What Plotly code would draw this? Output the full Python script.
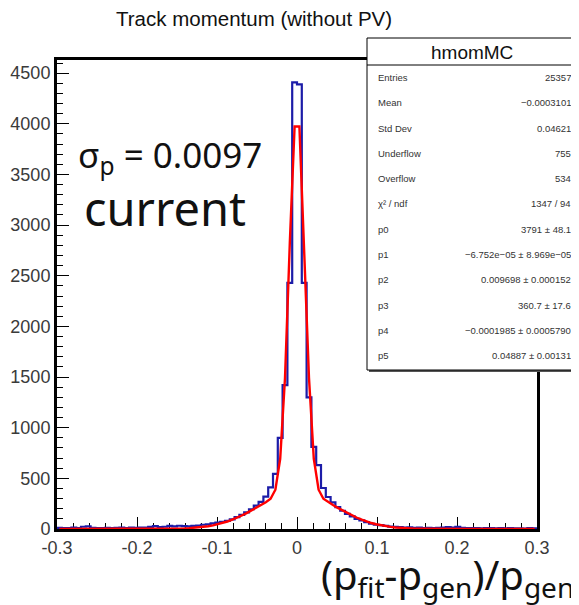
import numpy as np
import plotly.graph_objects as go

# ---------------- data ----------------
x_min, x_max, n_bins = -0.3, 0.3, 100
blue_counts = [
    12, 8, 10, 14, 9, 22, 25, 12, 10, 8,
    12, 9, 11, 13, 10, 14, 12, 15, 13, 20,
    28, 18, 22, 30, 26, 32, 28, 25, 30, 34,
    42, 45, 55, 62, 70, 80, 95, 118, 140, 165,
    195, 230, 268, 320, 410, 545, 900, 1420, 2430, 4410,
    4390, 2430, 1300, 810, 630, 405, 316, 262, 215, 180,
    150, 125, 100, 85, 68, 52, 42, 38, 30, 24,
    20, 18, 15, 16, 12, 14, 10, 12, 9, 11,
    15, 18, 14, 20, 12, 9, 8, 10, 7, 9,
    8, 6, 9, 7, 8, 6, 7, 5, 8, 6,
]
# fit curve (red) read at bin centres, |x| = 0.003 ... 0.297
fit_half = [
    3974, 2820, 1491, 693, 388, 299, 264, 236, 209, 183,
    157, 133, 111, 92, 74, 59, 47, 36, 27, 21,
    15, 11, 8, 6, 4, 3, 2, 1, 1, 0.5,
    0, 0, 0, 0, 0, 0, 0, 0, 0, 0,
    0, 0, 0, 0, 0, 0, 0, 0, 0, 0,
]
fit_values = fit_half[::-1] + fit_half

x_tick_vals = [-0.3, -0.2, -0.1, 0.0, 0.1, 0.2, 0.3]
x_tick_text = ["-0.3", "-0.2", "-0.1", "0", "0.1", "0.2", "0.3"]
y_tick_vals = [0, 500, 1000, 1500, 2000, 2500, 3000, 3500, 4000, 4500]

stat_labels = ["Entries", "Mean", "Std Dev", "Underflow", "Overflow", "χ² / ndf",
               "p0", "p1", "p2", "p3", "p4", "p5"]
stat_values = ["25357", "−0.0003101", "0.04621", "755", "534", "1347 / 94",
               "3791 ± 48.1", "−6.752e−05 ± 8.969e−05", "0.009698 ± 0.000152",
               "360.7 ± 17.6", "−0.0001985 ± 0.0005790", "0.04887 ± 0.00131"]
hist_name = "hmomMC"
title_text = "Track momentum (without PV)"

# ---------------- geometry helpers ----------------
OFF = 8                                  # page body margin
W, H = 579 - OFF, 605 - OFF
L, R, T, B = 57, 537, 60, 529            # plot-area box in screen pixels
def px(xp):
    return (xp - L) / (R - L)
def py(yp):
    return (B - yp) / (B - T)

edges = np.linspace(x_min, x_max, n_bins + 1)
centres = 0.5 * (edges[:-1] + edges[1:])
hx = list(edges)
hy = list(blue_counts) + [blue_counts[-1]]

fig = go.Figure()
fig.add_trace(go.Scatter(x=hx, y=hy, mode="lines", line=dict(shape="hv", color="#1c1ca8", width=2.2),
                         hoverinfo="skip", showlegend=False))
fig.add_trace(go.Scatter(x=list(centres), y=fit_values, mode="lines",
                         line=dict(color="#ff0000", width=2.4), hoverinfo="skip", showlegend=False))

tick_font = dict(family="Liberation Sans, Arial, sans-serif", size=18, color="#3a3a3a")
fig.update_layout(
    width=W, height=H,
    margin=dict(l=L - OFF, r=579 - R, t=T - OFF, b=605 - B),
    paper_bgcolor="white", plot_bgcolor="white",
    xaxis=dict(range=[x_min, x_max], tickvals=x_tick_vals, ticktext=x_tick_text, automargin=False,
               ticks="inside", ticklen=12, tickwidth=1, tickcolor="black",
               minor=dict(ticks="inside", ticklen=6, dtick=0.02, tick0=-0.3, tickcolor="black", tickwidth=1),
               showline=True, linewidth=3, linecolor="black", mirror=True,
               showgrid=False, zeroline=False, tickfont=tick_font, layer="below traces"),
    yaxis=dict(range=[0, 4630], tickvals=y_tick_vals, automargin=False,
               ticks="inside", ticklen=12, tickwidth=1, tickcolor="black",
               minor=dict(ticks="inside", ticklen=6, dtick=100, tickcolor="black", tickwidth=1),
               showline=True, linewidth=3, linecolor="black", mirror=True,
               showgrid=False, zeroline=False, tickfont=tick_font, layer="below traces"),
)

ann = []
# title
ann.append(dict(x=px(254), y=py(19), xref="paper", yref="paper", text=title_text, showarrow=False,
                font=dict(family="Liberation Sans, Arial, sans-serif", size=20.5, color="#111"),
                xanchor="center", yanchor="middle"))
# sigma text and 'current'
ann.append(dict(x=px(76), y=py(156), xref="paper", yref="paper",
                text="σ<sub>p</sub> = 0.0097", showarrow=False,
                font=dict(family="Noto Sans, DejaVu Sans, sans-serif", size=35, color="#111"),
                xanchor="left", yanchor="middle"))
ann.append(dict(x=px(82), y=py(208), xref="paper", yref="paper",
                text="current", showarrow=False,
                font=dict(family="Noto Sans, DejaVu Sans, sans-serif", size=47, color="#111"),
                xanchor="left", yanchor="middle"))
# x label
ann.append(dict(x=px(576), y=py(576), xref="paper", yref="paper",
                text="(p<sub>fit</sub>-p<sub>gen</sub>)/p<sub>gen</sub>", showarrow=False,
                font=dict(family="Noto Sans, DejaVu Sans, sans-serif", size=40, color="#111"),
                xanchor="right", yanchor="middle"))

# stats box
bx0, by0, bx1, by1 = 367, 38, 577, 370
shapes = [
    dict(type="rect", xref="paper", yref="paper", x0=px(bx0 + 2), x1=px(bx1 + 2), y0=py(by1 + 2), y1=py(by0 + 2),
         line=dict(width=0), fillcolor="#555"),
    dict(type="rect", xref="paper", yref="paper", x0=px(bx0), x1=px(bx1), y0=py(by1), y1=py(by0),
         line=dict(width=1, color="black"), fillcolor="white"),
    dict(type="line", xref="paper", yref="paper", x0=px(bx0), x1=px(bx1), y0=py(65), y1=py(65),
         line=dict(width=1, color="black")),
]
ann.append(dict(x=px(472), y=py(52), xref="paper", yref="paper", text=hist_name, showarrow=False,
                font=dict(family="Liberation Sans, Arial, sans-serif", size=19, color="#111"),
                xanchor="center", yanchor="middle"))
row_y0, row_dy = 77.5, 25.3
for k, (lab, val) in enumerate(zip(stat_labels, stat_values)):
    yy = row_y0 + k * row_dy
    ann.append(dict(x=px(376), y=py(yy), xref="paper", yref="paper", text=lab, showarrow=False,
                    font=dict(family="Liberation Sans, Arial, sans-serif", size=9.5, color="#333"),
                    xanchor="left", yanchor="middle"))
    ann.append(dict(x=px(573), y=py(yy), xref="paper", yref="paper", text=val, showarrow=False,
                    font=dict(family="Liberation Sans, Arial, sans-serif", size=9.5, color="#333"),
                    xanchor="right", yanchor="middle"))

fig.update_layout(annotations=ann, shapes=shapes)
fig.write_html("out.html")
